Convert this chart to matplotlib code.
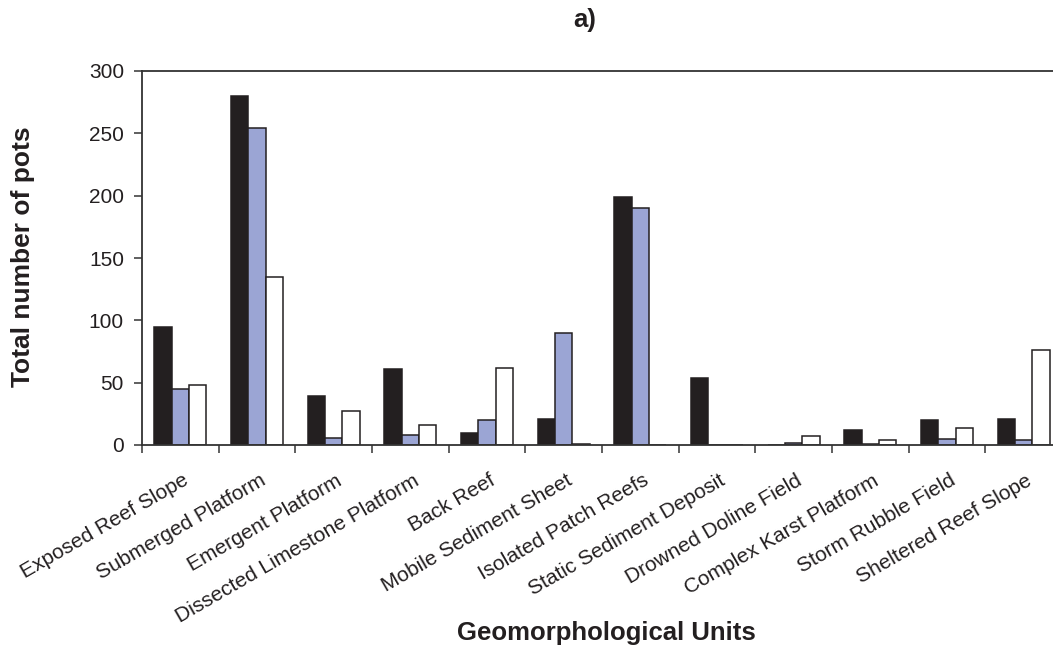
import matplotlib
matplotlib.use("Agg")
import matplotlib.pyplot as plt
import numpy as np

plt.rcParams['font.family'] = ['Liberation Sans', 'DejaVu Sans']

units = ["Exposed Reef Slope", "Submerged Platform", "Emergent Platform",
         "Dissected Limestone Platform", "Back Reef", "Mobile Sediment Sheet",
         "Isolated Patch Reefs", "Static Sediment Deposit", "Drowned Doline Field",
         "Complex Karst Platform", "Storm Rubble Field", "Sheltered Reef Slope"]
series_black = [95, 280, 39, 61, 10, 21, 199, 54, 0, 12, 20, 21]
series_blue = [45, 254, 6, 8, 20, 90, 190, 0, 2, 1, 5, 4]
series_white = [48, 135, 27, 16, 62, 1, 0, 0, 7, 4, 14, 76]
y_ticks = [0, 50, 100, 150, 200, 250, 300]

ink = "#231f20"
W, H = 1053, 649
fig = plt.figure(figsize=(W / 100, H / 100), dpi=100)
ax = fig.add_axes([142 / W, 1 - 445 / H, 920 / W, 374 / H])

x = np.arange(len(units))
w = 0.225
for off, vals, col in [(-w, series_black, ink),
                       (0, series_blue, "#9ba5d4"),
                       (w, series_white, "#ffffff")]:
    ax.bar(x + off, vals, width=w, color=col, edgecolor=ink, linewidth=1.1)

ax.set_xlim(-0.5, len(units) - 0.5)
ax.set_ylim(0, 300)
ax.set_yticks(y_ticks)
ax.set_yticklabels([str(v) for v in y_ticks], fontsize=15, color=ink)

# category boundaries carry the tick marks; the slanted names hang just
# right of each category centre
ax.set_xticks(np.arange(len(units) + 1) - 0.5)
ax.set_xticklabels([])
ax.set_xticks(x + 0.09, minor=True)
ax.set_xticklabels(units, minor=True, rotation=30, ha='right', va='center',
                   rotation_mode='anchor', fontsize=15, color=ink)
ax.tick_params(axis='x', which='minor', length=0, pad=24.5)
ax.tick_params(axis='x', which='major', direction='out', length=6, width=1.2, color='#444444')
ax.tick_params(axis='y', direction='out', length=6, width=1.2, color='#444444', pad=7)

for s in ['left', 'bottom', 'top', 'right']:
    ax.spines[s].set_color('#333333')
    ax.spines[s].set_linewidth(1.3)

fig.text(11 / W, 1 - 256.5 / H, "Total number of pots", fontsize=19, fontweight='bold',
         rotation=90, ha='left', va='center', color=ink)
fig.text(606 / W, 1 - 640 / H, "Geomorphological Units", fontsize=18.5, fontweight='bold',
         ha='center', va='baseline', color=ink)
fig.text(585 / W, 1 - 27 / H, "a)", fontsize=18.5, fontweight='bold',
         ha='center', va='baseline', color=ink)

fig.savefig("out.png", dpi=100)
